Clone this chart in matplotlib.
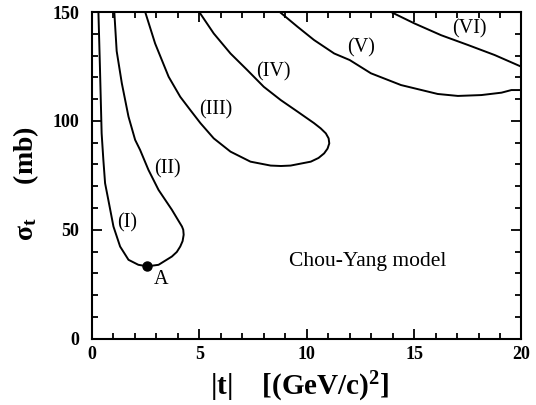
import numpy as np
import matplotlib as mpl
import matplotlib.pyplot as plt

mpl.rcParams['font.family'] = ['Liberation Serif', 'DejaVu Serif']
mpl.rcParams['mathtext.fontset'] = 'custom'
mpl.rcParams['mathtext.rm'] = 'Liberation Serif:bold'
mpl.rcParams['mathtext.it'] = 'Liberation Serif:bold'
mpl.rcParams['mathtext.bf'] = 'Liberation Serif:bold'

# curve I -> II
t12 = [0.30, 0.37, 0.45, 0.53, 0.61, 0.76, 1.00, 1.31, 1.70, 2.16, 2.58, 3.10, 3.72, 3.95,
       4.11, 4.22, 4.27, 4.25, 4.19, 4.00, 3.72, 3.10, 2.63, 2.24, 2.01, 1.70, 1.39, 1.15, 1.04]
s12 = [150, 125, 94.3, 82.1, 71.4, 63.8, 51.5, 42.3, 36.2, 33.9, 33.2, 33.9, 37.7, 39.8,
       42.3, 44.8, 47.7, 50.0, 51.5, 54.6, 59.2, 68.3, 77.5, 86.7, 91.3, 102, 117.3, 132.1, 150]
# curve III -> IV
t34 = [2.48, 2.94, 3.57, 4.11, 4.58, 5.05, 5.67, 6.45, 7.38, 8.32, 8.80, 9.25, 10.19, 10.55,
       10.81, 10.97, 11.05, 11.02, 10.89, 10.65, 10.34, 9.57, 8.79, 8.0, 7.23, 6.45, 5.67, 5.0]
s34 = [150, 135.6, 120.3, 111.1, 105, 99, 92, 85.9, 81.3, 79.5, 79.3, 79.5, 81.3, 83.0,
       85.1, 87.3, 89.7, 92.0, 94.3, 96.6, 99, 104.3, 109.6, 115.7, 123.4, 131, 140.2, 150]
# curve V
t5 = [8.79, 9.57, 10.34, 11.28, 12.0, 12.99, 14.39, 16.1, 17.04, 18.13, 19.07, 19.53, 20.0]
s5 = [149.7, 143.3, 137.2, 131, 128, 121.9, 116.5, 112.4, 111.5, 111.9, 113, 114.2, 114.2]
# curve VI
t6 = [14.0, 15.02, 16.26, 17.51, 18.75, 20.0]
s6 = [149.7, 144.8, 139.4, 134.9, 130.3, 124.9]

# point A
tA = 2.58
sA = 33.2

labels = ['(I)', '(II)', '(III)', '(IV)', '(V)', '(VI)']
lab_t = [1.62, 3.53, 5.78, 8.43, 12.52, 17.58]
lab_s = [53.1, 77.9, 105.0, 122.6, 133.4, 142.5]

fig = plt.figure(figsize=(5.36, 4.05), dpi=100)
ax = fig.add_axes([0.1716, 0.164, 0.8013, 0.806])

for t, s in [(t12, s12), (t34, s34), (t5, s5), (t6, s6)]:
    ax.plot(t, s, 'k-', lw=1.4)
ax.plot(tA, sA, 'ko', ms=6.5)
ax.text(tA + 0.64, sA - 6.1, 'A', fontsize=14.5, ha='center', va='center')

for l, x, y in zip(labels, lab_t, lab_s):
    ax.text(x, y, l, fontsize=14.5, ha='center', va='center')
ax.text(9.16, 35.5, 'Chou-Yang model', fontsize=15.5, ha='left', va='center')

ax.set_xlim(0, 20)
ax.set_ylim(0, 150)
ax.set_xticks([0, 5, 10, 15, 20])
ax.set_yticks([0, 50, 100, 150])
ax.set_xticks(np.arange(0, 21, 1), minor=True)
ax.set_yticks(np.arange(0, 151, 10), minor=True)
ax.tick_params(which='both', direction='in', top=True, right=True, width=1.3)
ax.tick_params(which='major', length=7)
ax.tick_params(which='minor', length=4)
ax.tick_params(axis='x', pad=5)
ax.tick_params(axis='y', pad=9)
for lab in ax.get_xticklabels() + ax.get_yticklabels():
    lab.set_fontweight('bold')
    lab.set_fontsize(13)
for sp in ax.spines.values():
    sp.set_linewidth(1.5)

ax.set_xlabel(r'|t|    [(GeV/c)$^2$]', fontsize=21, fontweight='bold')
ax.xaxis.set_label_coords(0.484, -0.095)
ax.set_ylabel(r'$\sigma_t$     (mb)', fontsize=20, fontweight='bold')
ax.yaxis.set_label_coords(-0.118, 0.475)

fig.savefig('out.png', dpi=100)
